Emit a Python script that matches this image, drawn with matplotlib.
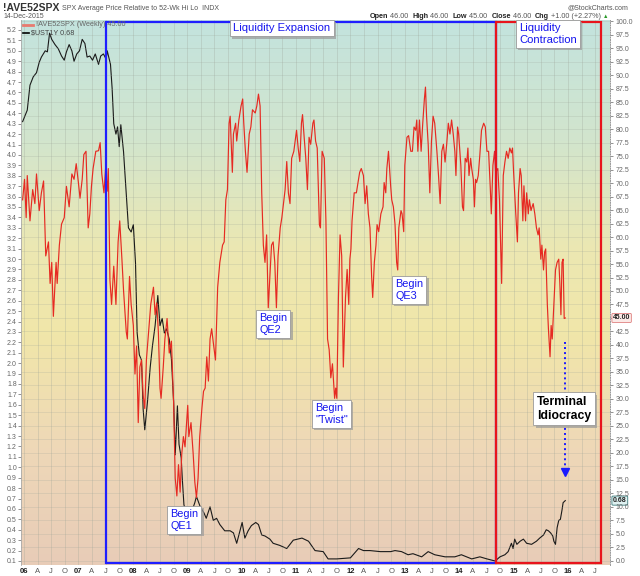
import numpy as np
import matplotlib
matplotlib.use('Agg')
import matplotlib.pyplot as plt
from matplotlib.colors import LinearSegmentedColormap
from matplotlib.patches import Rectangle
import matplotlib.transforms as mtransforms
import matplotlib.patheffects as pe

plt.rcParams['font.family'] = ['Liberation Sans', 'DejaVu Sans']

# ---------------- data (decimal years) ----------------
ave_dates = [
    2005.975, 2006.01, 2006.04, 2006.06, 2006.11, 2006.16, 2006.20, 2006.23, 2006.28, 2006.32,
    2006.36, 2006.40, 2006.45, 2006.48, 2006.51, 2006.54, 2006.59, 2006.61, 2006.65, 2006.69,
    2006.74, 2006.78, 2006.83, 2006.88, 2006.92, 2006.96, 2007.00, 2007.03, 2007.07, 2007.10,
    2007.14, 2007.18, 2007.21, 2007.24, 2007.27, 2007.32, 2007.37, 2007.40, 2007.43, 2007.47,
    2007.50, 2007.53, 2007.55, 2007.58, 2007.61, 2007.65, 2007.69, 2007.73, 2007.76, 2007.80,
    2007.83, 2007.88, 2007.90, 2007.94, 2007.97, 2008.01, 2008.04, 2008.07, 2008.10, 2008.13,
    2008.16, 2008.19, 2008.22, 2008.25, 2008.29, 2008.33, 2008.38, 2008.41, 2008.44, 2008.47,
    2008.50, 2008.52, 2008.56, 2008.59, 2008.63, 2008.67, 2008.71, 2008.75, 2008.78, 2008.81,
    2008.84, 2008.87, 2008.90, 2008.93, 2008.96, 2009.01, 2009.03, 2009.07, 2009.11, 2009.14,
    2009.17, 2009.20, 2009.23, 2009.27, 2009.30, 2009.33, 2009.36, 2009.39, 2009.42, 2009.45,
    2009.48, 2009.52, 2009.56, 2009.60, 2009.65, 2009.68, 2009.71, 2009.74, 2009.77, 2009.79,
    2009.83, 2009.85, 2009.89, 2009.91, 2009.95, 2009.99, 2010.02, 2010.04, 2010.07, 2010.10,
    2010.14, 2010.17, 2010.20, 2010.25, 2010.28, 2010.31, 2010.34, 2010.37, 2010.40, 2010.43,
    2010.46, 2010.49, 2010.55, 2010.58, 2010.61, 2010.64, 2010.67, 2010.71, 2010.74, 2010.77,
    2010.80, 2010.83, 2010.86, 2010.89, 2010.92, 2010.96, 2011.01, 2011.04, 2011.07, 2011.10,
    2011.12, 2011.15, 2011.18, 2011.21, 2011.24, 2011.27, 2011.31, 2011.33, 2011.36, 2011.39,
    2011.43, 2011.45, 2011.48, 2011.52, 2011.55, 2011.58, 2011.61, 2011.64, 2011.67, 2011.69,
    2011.71, 2011.73, 2011.75, 2011.78, 2011.81, 2011.84, 2011.87, 2011.91, 2011.94, 2011.97,
    2011.99, 2012.01, 2012.03, 2012.07, 2012.11, 2012.13, 2012.17, 2012.20, 2012.24, 2012.27,
    2012.30, 2012.33, 2012.36, 2012.39, 2012.41, 2012.44, 2012.47, 2012.49, 2012.52, 2012.56,
    2012.60, 2012.62, 2012.65, 2012.67, 2012.70, 2012.74, 2012.76, 2012.79, 2012.82, 2012.85,
    2012.87, 2012.89, 2012.93, 2012.95, 2012.98, 2013.00, 2013.04, 2013.07, 2013.11, 2013.14,
    2013.17, 2013.20, 2013.22, 2013.24, 2013.27, 2013.30, 2013.33, 2013.36, 2013.38, 2013.40,
    2013.43, 2013.46, 2013.49, 2013.52, 2013.55, 2013.59, 2013.62, 2013.65, 2013.68, 2013.71,
    2013.74, 2013.77, 2013.80, 2013.83, 2013.86, 2013.89, 2013.92, 2013.94, 2013.97, 2013.99,
    2014.03, 2014.06, 2014.08, 2014.11, 2014.14, 2014.16, 2014.18, 2014.21, 2014.23, 2014.26,
    2014.28, 2014.30, 2014.32, 2014.35, 2014.38, 2014.41, 2014.45, 2014.48, 2014.51, 2014.54,
    2014.57, 2014.59, 2014.62, 2014.65, 2014.67, 2014.71, 2014.74, 2014.78, 2014.81, 2014.84,
    2014.87, 2014.90, 2014.93, 2014.96, 2014.98, 2015.00, 2015.04, 2015.07, 2015.09, 2015.12,
    2015.14, 2015.17, 2015.19, 2015.22, 2015.24, 2015.27, 2015.29, 2015.32, 2015.34, 2015.36,
    2015.39, 2015.42, 2015.45, 2015.47, 2015.50, 2015.52, 2015.55, 2015.57, 2015.59, 2015.62,
    2015.64, 2015.67, 2015.69, 2015.71, 2015.74, 2015.77, 2015.80, 2015.83, 2015.85, 2015.87,
    2015.89, 2015.91, 2015.93, 2015.95,
]
ave_values = [
    66.9, 70.7, 63.6, 71.4, 63.0, 68.8, 66.2, 71.7, 64.9, 68.2,
    70.4, 56.5, 59.1, 51.4, 55.3, 45.3, 55.3, 51.4, 58.5, 62.4,
    63.6, 69.4, 65.6, 71.7, 70.7, 73.6, 70.1, 67.2, 70.7, 75.3,
    75.9, 61.7, 64.3, 69.4, 72.7, 75.9, 76.0, 77.5, 71.7, 68.2,
    72.7, 68.5, 72.7, 52.0, 47.5, 54.6, 47.5, 59.1, 63.0, 55.9,
    50.1, 42.4, 41.1, 52.7, 47.5, 43.6, 34.6, 39.8, 25.6, 35.9,
    37.2, 30.7, 28.2, 37.2, 42.4, 47.5, 50.7, 45.6, 47.8, 42.4,
    32.0, 30.1, 35.9, 41.1, 44.9, 38.5, 40.7, 29.4, 15.3, 12.0,
    17.8, 12.7, 19.8, 23.0, 21.1, 28.8, 23.0, 25.6, 19.8, 14.6,
    11.7, 15.3, 23.0, 28.2, 31.4, 32.0, 37.8, 33.3, 41.1, 43.0,
    40.4, 37.2, 50.7, 55.3, 58.5, 59.1, 66.9, 68.8, 81.1, 82.4,
    72.0, 79.1, 81.1, 77.8, 81.7, 84.3, 85.6, 81.1, 75.9, 72.0,
    79.1, 80.4, 83.6, 83.0, 84.3, 86.5, 84.3, 68.2, 58.5, 55.3,
    60.4, 46.9, 58.5, 59.1, 55.3, 46.9, 56.5, 61.7, 63.6, 66.2,
    68.8, 74.0, 68.2, 66.2, 74.6, 75.9, 79.8, 76.5, 74.0, 81.1,
    82.7, 78.5, 74.6, 68.8, 78.5, 77.2, 81.1, 81.7, 77.8, 76.5,
    62.3, 61.7, 75.9, 74.6, 63.0, 41.1, 39.1, 33.9, 36.5, 33.3,
    30.1, 32.0, 30.1, 48.8, 60.4, 56.5, 35.9, 48.8, 54.0, 47.5,
    55.9, 57.8, 63.0, 68.2, 68.2, 69.5, 72.0, 72.7, 71.4, 66.2,
    69.5, 64.3, 61.7, 52.7, 48.8, 55.3, 58.5, 62.3, 61.0, 64.3,
    65.6, 70.1, 68.2, 72.7, 75.9, 69.5, 66.9, 65.6, 62.4, 55.3,
    53.9, 61.7, 64.9, 64.3, 61.0, 73.3, 78.5, 78.8, 75.9, 75.9,
    80.4, 79.8, 81.7, 75.9, 81.7, 75.9, 81.1, 85.6, 87.8, 82.4,
    77.2, 68.2, 77.8, 82.4, 81.1, 75.9, 71.4, 66.2, 75.9, 77.2,
    73.9, 77.2, 81.1, 79.1, 81.7, 79.1, 75.9, 71.4, 80.4, 79.1,
    73.3, 65.6, 64.9, 74.6, 73.9, 76.5, 71.4, 74.6, 72.7, 70.7,
    65.6, 70.7, 70.1, 71.4, 75.3, 79.8, 81.1, 80.4, 75.9, 75.9,
    69.4, 64.3, 73.3, 75.9, 72.0, 72.7, 66.9, 51.4, 71.4, 73.9,
    75.9, 74.6, 76.5, 75.6, 76.5, 72.0, 64.3, 59.1, 68.2, 72.7,
    71.4, 63.0, 69.5, 63.0, 68.2, 64.3, 66.9, 64.9, 65.6, 66.2,
    64.3, 61.7, 60.4, 61.7, 55.9, 58.5, 53.9, 57.2, 57.8, 47.5,
    43.0, 37.8, 43.6, 41.1, 47.5, 53.9, 55.3, 55.9, 51.4, 45.6,
    55.3, 55.9, 44.9, 45.0,
]

ust_dates = [
    2005.975, 2006.06, 2006.11, 2006.17, 2006.23, 2006.28, 2006.32, 2006.39, 2006.43, 2006.47,
    2006.51, 2006.57, 2006.63, 2006.69, 2006.74, 2006.78, 2006.83, 2006.88, 2006.92, 2006.97,
    2007.02, 2007.07, 2007.12, 2007.16, 2007.21, 2007.26, 2007.31, 2007.37, 2007.41, 2007.46,
    2007.51, 2007.53, 2007.59, 2007.62, 2007.65, 2007.69, 2007.72, 2007.75, 2007.78, 2007.83,
    2007.87, 2007.92, 2007.97, 2008.01, 2008.05, 2008.08, 2008.12, 2008.16, 2008.19, 2008.22,
    2008.27, 2008.32, 2008.36, 2008.41, 2008.46, 2008.50, 2008.54, 2008.58, 2008.62, 2008.67,
    2008.71, 2008.75, 2008.78, 2008.82, 2008.85, 2008.89, 2008.91, 2008.94, 2008.99, 2009.05,
    2009.10, 2009.14, 2009.17, 2009.24, 2009.31, 2009.35, 2009.42, 2009.48, 2009.54, 2009.60,
    2009.69, 2009.79, 2009.85, 2009.91, 2009.97, 2010.01, 2010.06, 2010.12, 2010.18, 2010.26,
    2010.31, 2010.37, 2010.43, 2010.52, 2010.58, 2010.70, 2010.83, 2010.95, 2011.11, 2011.23,
    2011.35, 2011.50, 2011.59, 2011.75, 2012.00, 2012.15, 2012.24, 2012.36, 2012.55, 2012.74,
    2012.82, 2012.94, 2013.06, 2013.15, 2013.31, 2013.43, 2013.55, 2013.74, 2013.92, 2014.04,
    2014.23, 2014.38, 2014.51, 2014.66, 2014.75, 2014.84, 2014.90, 2014.96, 2014.99, 2015.02,
    2015.06, 2015.12, 2015.18, 2015.24, 2015.33, 2015.42, 2015.48, 2015.55, 2015.60, 2015.64,
    2015.68, 2015.72, 2015.74, 2015.77, 2015.80, 2015.83, 2015.86, 2015.89, 2015.91, 2015.95,
]
ust_values = [
    4.32, 4.43, 4.67, 4.75, 4.79, 4.89, 4.94, 5.00, 4.99, 5.17,
    5.11, 5.06, 5.02, 4.95, 4.91, 4.99, 5.06, 5.00, 4.90, 4.97,
    5.00, 5.11, 5.07, 4.94, 4.95, 4.91, 4.97, 4.87, 4.95, 4.97,
    4.92, 5.00, 4.87, 4.64, 4.30, 4.20, 4.27, 4.08, 4.29, 4.03,
    3.70, 3.30, 3.26, 3.33, 2.96, 2.29, 2.08, 2.03, 1.56, 1.36,
    1.63, 1.96, 2.16, 2.36, 2.65, 2.36, 2.43, 2.29, 2.33, 2.23,
    2.04, 1.63, 1.12, 1.59, 1.22, 1.09, 0.89, 0.64, 0.55, 0.50,
    0.60, 0.66, 0.72, 0.62, 0.56, 0.51, 0.62, 0.49, 0.51, 0.45,
    0.39, 0.39, 0.37, 0.27, 0.39, 0.47, 0.32, 0.39, 0.44, 0.47,
    0.45, 0.35, 0.34, 0.31, 0.27, 0.25, 0.22, 0.30, 0.32, 0.29,
    0.20, 0.19, 0.12, 0.12, 0.13, 0.22, 0.20, 0.20, 0.19, 0.19,
    0.20, 0.19, 0.16, 0.17, 0.14, 0.19, 0.16, 0.14, 0.14, 0.16,
    0.12, 0.14, 0.12, 0.10, 0.14, 0.16, 0.19, 0.27, 0.22, 0.31,
    0.26, 0.29, 0.31, 0.27, 0.26, 0.29, 0.32, 0.35, 0.40, 0.39,
    0.37, 0.34, 0.29, 0.26, 0.42, 0.49, 0.50, 0.59, 0.66, 0.68,
]

year_labels = ['06', '07', '08', '09', '10', '11', '12', '13', '14', '15', '16']
quarter_labels = ['A', 'J', 'O']
left_ticks = [round(0.1 * i, 1) for i in range(1, 53)]
right_ticks = [2.5 * i for i in range(0, 41)]

expansion_span = (2007.51, 2014.68)
contraction_span = (2014.68, 2016.61)

# ---------------- figure layout (pixel based) ----------------
W, H = 640, 576
PL, PR, PT, PB = 21, 610, 20, 565
fig = plt.figure(figsize=(W / 100, H / 100), dpi=100)
fig.patch.set_facecolor('white')
ax = fig.add_axes([PL / W, 1 - PB / H, (PR - PL) / W, (PB - PT) / H])
ax2 = ax.twinx()

def axf(X, Y):
    return ((X - PL) / (PR - PL), (PB - Y) / (PB - PT))

def figf(X, Y):
    return (X / W, 1 - Y / H)

ax.set_xlim(2005.945, 2016.772)
ax.set_ylim(0.0615, 5.296)
ax2.set_ylim(-0.8, 100.24)

# background gradient
grad_colors = [(0.0, '#e8ccb7'), (0.2, '#eed7b8'), (0.42, '#f1e6a9'),
               (0.58, '#ece8b2'), (0.78, '#d2e5cd'), (1.0, '#c3e3de')]
cmap = LinearSegmentedColormap.from_list('bg', grad_colors)
grad = np.linspace(0, 1, 256).reshape(-1, 1)
ax.imshow(grad, aspect='auto', cmap=cmap, origin='lower',
          extent=[0, 1, 0, 1], transform=ax.transAxes, zorder=-10)

# ticks & grid
xt = []
xl = []
for i, yl in enumerate(year_labels):
    yr = 2006 + i
    xt.append(yr)
    xl.append(yl)
    for q, ql in enumerate(quarter_labels):
        if yr + 0.25 * (q + 1) < 2016.6:
            xt.append(yr + 0.25 * (q + 1))
            xl.append(ql)
ax.set_xticks(xt)
ax.set_xticklabels(xl)
for lab in ax.get_xticklabels():
    if lab.get_text() in year_labels:
        lab.set_fontweight('bold')
        lab.set_color('#222222')
    else:
        lab.set_color('#555555')
ax.tick_params(axis='x', length=0, pad=2, labelsize=5.5)
for x in xt:
    ax.axvline(x, color='#9aa296', lw=0.5, alpha=0.4, zorder=-5)
for r in right_ticks:
    ax2.axhline(r, color='#9aa296', lw=0.5, alpha=0.3, zorder=0)

ax.set_yticks(left_ticks)
ax.set_yticklabels(['%.1f' % v for v in left_ticks])
ax.tick_params(axis='y', length=2, width=0.5, pad=1, labelsize=5, colors='#666666')
ax2.set_yticks(right_ticks)
ax2.set_yticklabels(['' if v == 45.0 else '%.1f' % v for v in right_ticks])
ax2.tick_params(axis='y', length=2, width=0.5, pad=2, labelsize=5, colors='#666666')

for a in (ax, ax2):
    for s in ('top', 'bottom'):
        a.spines[s].set_visible(False)
ax.spines['left'].set_color('#aaaaaa')
ax.spines['left'].set_linewidth(0.6)
ax.spines['right'].set_visible(False)
ax2.spines['left'].set_visible(False)
ax2.spines['right'].set_color('#999999')
ax2.spines['right'].set_linestyle((0, (1, 1.5)))
ax2.spines['right'].set_linewidth(0.7)

# series
ax.plot(ust_dates, ust_values, color='#1a1a1a', lw=0.8, zorder=3)
ax2.plot(ave_dates, ave_values, color='#e62a22', lw=0.85, zorder=3)

# regime boxes
blend = mtransforms.blended_transform_factory(ax2.transData, ax2.transAxes)
ax2.add_patch(Rectangle((expansion_span[0], 0.004), expansion_span[1] - expansion_span[0], 0.992,
                        transform=blend, fill=False, edgecolor='#1f1fff', lw=1.6, zorder=5))
ax2.add_patch(Rectangle((contraction_span[0], 0.004), contraction_span[1] - contraction_span[0], 0.992,
                        transform=blend, fill=False, edgecolor='#e8141c', lw=1.6, zorder=5))

# annotation boxes with drop shadow
def label(X, Y, txt, fs=7.8, color='#1515ee', weight='normal', ls=1.25, pad=0.3):
    x, y = axf(X, Y)
    t = ax2.text(x, y, txt, transform=ax2.transAxes, fontsize=fs, color=color, weight=weight,
                 ha='left', va='top', linespacing=ls, zorder=8,
                 bbox=dict(boxstyle='square,pad=%s' % pad, facecolor='white', edgecolor='#9a9a9a', lw=0.6))
    t.get_bbox_patch().set_path_effects([
        pe.SimplePatchShadow(offset=(1.6, -1.6), shadow_rgbFace='#9a9a9a', alpha=0.7),
        pe.Normal()])
    return t

label(233, 23, 'Liquidity Expansion', fs=8.1)
label(519, 23, 'Liquidity\nContraction', fs=8.1, ls=1.2)
label(170, 509, 'Begin\nQE1')
label(259, 313, 'Begin\nQE2')
label(315, 403, 'Begin\n"Twist"')
label(395, 279, 'Begin\nQE3')

# Terminal Idiocracy arrow
ax2.plot([ave_dates[-1], ave_dates[-1]], [axf(0, 342)[1], axf(0, 470)[1]],
         transform=blend, color='#1a1aff', lw=1.4, ls=(0, (1, 1.6)), zorder=6)
ax2.plot([ave_dates[-1]], [axf(0, 472)[1]], transform=blend,
         marker='v', ms=6, color='#1a1aff', zorder=6)
label(537, 396, 'Terminal\nIdiocracy', fs=8.8, color='black', weight='bold', ls=1.2)

# in-plot legend
lx, ly = axf(23, 25)
ax2.plot([lx, lx + 10 / (PR - PL)], [ly, ly], transform=ax2.transAxes, color='#e87a70', lw=2, zorder=9)
ax2.text(lx + 13 / (PR - PL), ly, '!AVE52SPX (Weekly) 45.00', transform=ax2.transAxes,
         fontsize=5.2, color='#666666', va='center', ha='left', zorder=9)
lx, ly = axf(23, 33)
ax2.plot([lx, lx + 6 / (PR - PL)], [ly, ly], transform=ax2.transAxes, color='black', lw=1.2, zorder=9)
ax2.text(lx + 8 / (PR - PL), ly, '$UST1Y 0.68', transform=ax2.transAxes,
         fontsize=5.2, color='#444444', va='center', ha='left', zorder=9)

# value tags on right axis
ax2.text(1.005, ave_values[-1], '45.00',
         transform=mtransforms.blended_transform_factory(ax2.transAxes, ax2.transData),
         fontsize=5, weight='bold', color='#222222', va='center', ha='left', zorder=10,
         bbox=dict(boxstyle='round,pad=0.15', facecolor='#fbe9e6', edgecolor='#e08080', lw=0.6), clip_on=False)
ax.text(1.005, ust_values[-1], '0.68',
        transform=mtransforms.blended_transform_factory(ax.transAxes, ax.transData),
        fontsize=5, weight='bold', color='#222222', va='center', ha='left', zorder=10,
        bbox=dict(boxstyle='round,pad=0.15', facecolor='#dff1f1', edgecolor='#3a7a7a', lw=0.6), clip_on=False)

# header
fig.text(*figf(3, 8), '!AVE52SPX', fontsize=7.5, weight='bold', color='#333333', va='center', ha='left')
fig.text(*figf(62, 8), 'SPX Average Price Relative to 52-Wk Hi Lo  INDX', fontsize=5, color='#555555',
         va='center', ha='left')
fig.text(*figf(3, 16), '14-Dec-2015', fontsize=5, color='#555555', va='center', ha='left')
fig.text(*figf(628, 8), '@StockCharts.com', fontsize=5, color='#555555', va='center', ha='right')

pieces = [('Open', 'bold'), (' 46.00  ', 'normal'), ('High', 'bold'), (' 46.00  ', 'normal'),
          ('Low', 'bold'), (' 45.00  ', 'normal'), ('Close', 'bold'), (' 46.00  ', 'normal'),
          ('Chg', 'bold'), (' +1.00 (+2.27%)', 'normal')]
fig.canvas.draw()
renderer = fig.canvas.get_renderer()
texts = []
for s, w in pieces:
    t = fig.text(0, 0, s, fontsize=5.2, weight=w, color='#222222' if w == 'bold' else '#555555',
                 va='center', ha='left')
    texts.append(t)
widths = [t.get_window_extent(renderer).width for t in texts]
xpos = 601 - sum(widths)
for t, wdt in zip(texts, widths):
    t.set_position(figf(xpos, 16))
    xpos += wdt
fig.text(*figf(603, 16), '\u25b2', fontsize=4, color='#2a9a2a', va='center', ha='left')

fig.savefig('out.png', dpi=100)
